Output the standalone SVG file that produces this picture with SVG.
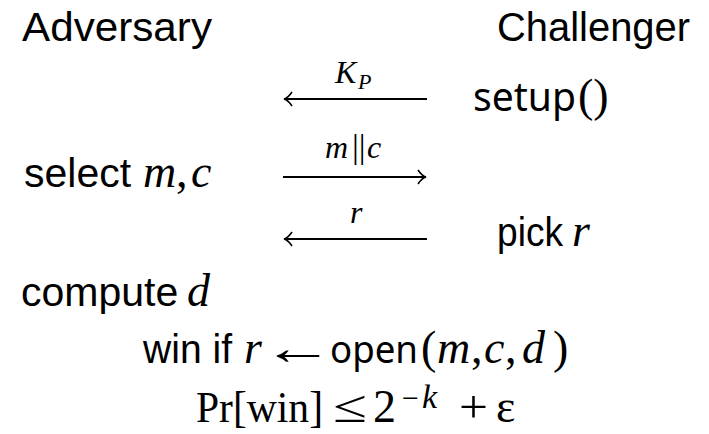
<svg xmlns="http://www.w3.org/2000/svg" width="709" height="434" viewBox="0 0 709 434">
<style>
text{fill:#000}
.t{font-family:"Liberation Sans",Arial,sans-serif;font-size:41px}
.sf{font-family:"Noto Sans","DejaVu Sans",sans-serif}
.mi{font-family:"Liberation Serif","Times New Roman",serif;font-style:italic;font-size:46px}
.rm{font-family:"Liberation Serif","Times New Roman",serif;font-size:46px}
.lbl{font-family:"Liberation Serif","Times New Roman",serif;font-style:italic;font-size:32px}
.ln{stroke:#000;stroke-width:1.8;fill:none}
</style>
<defs>
<marker id="ah" viewBox="0 0 10 16" refX="9" refY="8" markerWidth="10" markerHeight="16" markerUnits="userSpaceOnUse" orient="auto-start-reverse">
<path d="M1,1 Q5,7 9,8 Q5,9 1,15" fill="none" stroke="#000" stroke-width="1.6"/>
</marker>
</defs>
<g id="adversary"><text class="t" x="22" y="41" textLength="190" lengthAdjust="spacingAndGlyphs">Adversary</text></g>
<g id="challenger"><text class="t" x="497" y="41" textLength="193" lengthAdjust="spacingAndGlyphs">Challenger</text></g>
<g id="setup">
<text class="sf" x="473" y="111" style="font-size:40px" textLength="103" lengthAdjust="spacingAndGlyphs">setup</text>
<text class="rm" x="578" y="111">()</text>
</g>
<g id="select">
<text class="t" x="24" y="187">select</text>
<text class="mi" x="143" y="187">m</text>
<text class="rm" x="176" y="187">,</text>
<text class="mi" x="191" y="187">c</text>
</g>
<g id="pick">
<text class="t" x="497" y="246" textLength="66" lengthAdjust="spacingAndGlyphs">pick</text>
<text class="mi" x="572" y="246">r</text>
</g>
<g id="compute">
<text class="t" x="21" y="306">compute</text>
<text class="mi" x="187" y="306">d</text>
</g>
<g id="win">
<text class="t" x="143" y="363" textLength="89" lengthAdjust="spacingAndGlyphs">win if</text>
<text class="mi" x="244" y="363">r</text>
<text class="rm" transform="translate(262,364) scale(1.5,1)" x="0" y="0" style="font-size:48px">←</text>
<text class="sf" x="330" y="363" style="font-size:38px" textLength="88" lengthAdjust="spacingAndGlyphs">open</text>
<text class="rm" x="421" y="363">(</text>
<text class="mi" x="437" y="363">m</text>
<text class="rm" x="471" y="363">,</text>
<text class="mi" x="484" y="363">c</text>
<text class="rm" x="505" y="363">,</text>
<text class="mi" x="522" y="363">d</text>
<text class="rm" x="553" y="363">)</text>
</g>
<g id="prob">
<text class="rm" x="196" y="422" style="font-size:45px" textLength="127" lengthAdjust="spacingAndGlyphs">Pr[win]</text>
<text class="rm" x="333" y="422" textLength="34" lengthAdjust="spacingAndGlyphs">≤</text>
<text class="rm" x="373" y="422">2</text>
<text class="rm" x="402" y="408" style="font-size:30px">−</text>
<text class="mi" x="422" y="408" style="font-size:34px">k</text>
<text class="rm" x="459" y="422" textLength="29" lengthAdjust="spacingAndGlyphs">+</text>
<text class="rm" x="496" y="422">ε</text>
</g>
<g id="connectors">
<line class="ln" x1="284" y1="99" x2="427" y2="99" marker-start="url(#ah)"/>
<text class="lbl" x="335" y="83">K</text><text class="lbl" x="358" y="89" style="font-size:22px">P</text>
<line class="ln" x1="283" y1="177" x2="426" y2="177" marker-end="url(#ah)"/>
<text class="lbl" x="325" y="158">m</text><text class="rm" x="352" y="158" style="font-size:34px">||</text><text class="lbl" x="367" y="158">c</text>
<line class="ln" x1="284" y1="239" x2="427" y2="239" marker-start="url(#ah)"/>
<text class="lbl" x="350" y="223">r</text>
</g>
</svg>
